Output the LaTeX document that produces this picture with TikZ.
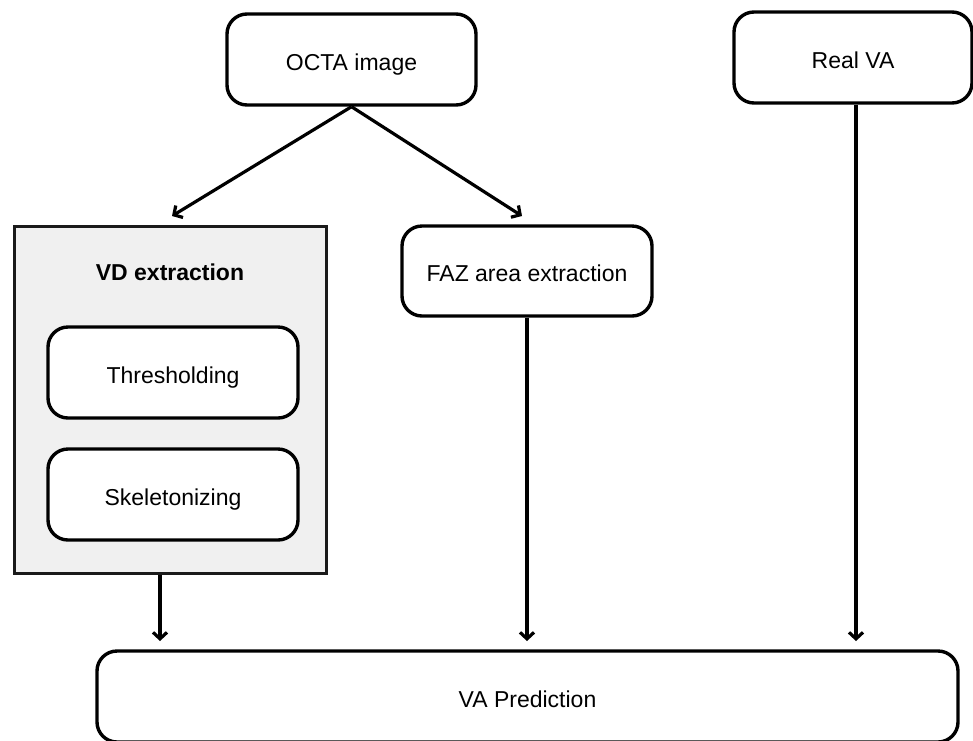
\documentclass[tikz,border=0pt]{standalone}
\usepackage{fontspec}
\setmainfont{Liberation Sans}
\usetikzlibrary{arrows.meta}
\definecolor{panelgray}{HTML}{F0F0F0}
\definecolor{edgegray}{HTML}{1A1A1A}
\begin{document}
\begin{tikzpicture}[x=1pt,y=-1pt,
  every node/.style={font=\fontsize{23}{27}\selectfont},
  rbox/.style={draw=black, line width=3.4pt, rounded corners=20pt, fill=white, inner sep=0pt, minimum width=250pt, minimum height=91pt, text height=26pt, text depth=5pt},
  panel/.style={draw=edgegray, line width=3pt, fill=panelgray, inner sep=0pt, minimum width=312pt, minimum height=347pt},
  conn/.style={line width=3.2pt, -{Straight Barb[length=6.5pt,width=14pt,line width=3.2pt]}}
]
\useasboundingbox (0,0) rectangle (973,740);
\node[rbox, minimum width=249pt] (octa) at (351.5,59.5) {OCTA image};
\node[rbox, minimum width=238pt] (realva) at (853,57.5) {Real VA};
\node[panel] (vd) at (170,399.5) {};
\node[font=\fontsize{23}{27}\selectfont\bfseries] (vdtitle) at (170,272) {VD extraction};
\node[rbox] (thr) at (173,372.5) {Thresholding};
\node[rbox] (skel) at (173,494.5) {Skeletonizing};
\node[rbox, minimum height=90pt] (faz) at (527,271) {FAZ area extraction};
\node[rbox, minimum width=861pt] (pred) at (527.5,696.5) {VA Prediction};
\coordinate (e1) at (172,216);
\coordinate (e2) at (522,216);
\coordinate (e3) at (160,641);
\coordinate (e4) at (527,641);
\coordinate (e5) at (856,641);
\draw[conn] (octa.south) -- (e1);
\draw[conn] (octa.south) -- (e2);
\draw[conn] (vd.south -| e3) -- (e3);
\draw[conn] (faz.south -| e4) -- (e4);
\draw[conn] (realva.south -| e5) -- (e5);
\end{tikzpicture}
\end{document}
